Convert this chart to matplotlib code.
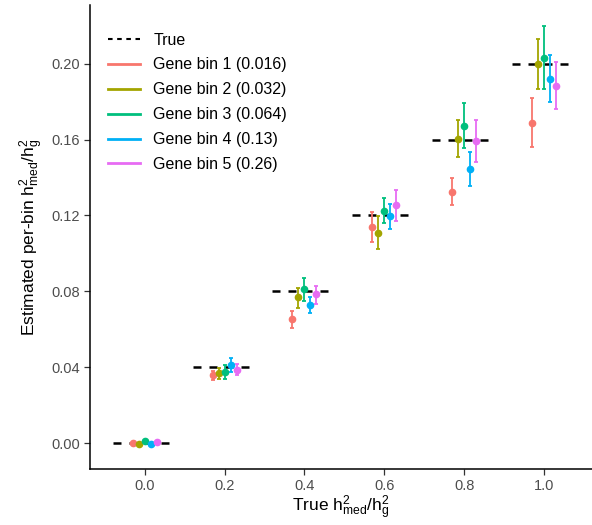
import matplotlib
matplotlib.use("Agg")
import matplotlib.pyplot as plt
from matplotlib.lines import Line2D
import numpy as np

plt.rcParams['font.family'] = ['Liberation Sans', 'DejaVu Sans']
plt.rcParams['mathtext.fontset'] = 'custom'
plt.rcParams['mathtext.rm'] = 'Liberation Sans'
plt.rcParams['mathtext.it'] = 'Liberation Sans'

# data
true_vals = [0.0, 0.2, 0.4, 0.6, 0.8, 1.0]
true_est = [0.0, 0.04, 0.08, 0.12, 0.16, 0.20]
bin_labels = ["Gene bin 1 (0.016)", "Gene bin 2 (0.032)", "Gene bin 3 (0.064)",
              "Gene bin 4 (0.13)", "Gene bin 5 (0.26)"]
bin_colors = ["#F8766D", "#A3A500", "#00BF7D", "#00B0F6", "#E76BF3"]

est_bin1 = [0.0000, 0.0359, 0.0654, 0.1138, 0.1323, 0.1690]
lo_bin1 = [-0.0006, 0.0333, 0.0608, 0.1059, 0.1253, 0.1561]
hi_bin1 = [0.0006, 0.0382, 0.0696, 0.1217, 0.1395, 0.1818]

est_bin2 = [-0.0004, 0.0368, 0.0770, 0.1110, 0.1603, 0.1998]
lo_bin2 = [-0.0010, 0.0338, 0.0714, 0.1025, 0.1506, 0.1867]
hi_bin2 = [0.0002, 0.0395, 0.0818, 0.1196, 0.1702, 0.2128]

est_bin3 = [0.0009, 0.0372, 0.0810, 0.1222, 0.1674, 0.2033]
lo_bin3 = [0.0003, 0.0338, 0.0749, 0.1159, 0.1554, 0.1866]
hi_bin3 = [0.0015, 0.0410, 0.0868, 0.1290, 0.1792, 0.2199]

est_bin4 = [-0.0007, 0.0411, 0.0729, 0.1196, 0.1445, 0.1920]
lo_bin4 = [-0.0013, 0.0372, 0.0683, 0.1131, 0.1355, 0.1797]
hi_bin4 = [-0.0001, 0.0448, 0.0770, 0.1262, 0.1534, 0.2045]

est_bin5 = [0.0007, 0.0387, 0.0784, 0.1253, 0.1591, 0.1883]
lo_bin5 = [0.0001, 0.0359, 0.0735, 0.1170, 0.1480, 0.1762]
hi_bin5 = [0.0013, 0.0416, 0.0830, 0.1332, 0.1702, 0.2007]

ests = [est_bin1, est_bin2, est_bin3, est_bin4, est_bin5]
los = [lo_bin1, lo_bin2, lo_bin3, lo_bin4, lo_bin5]
his = [hi_bin1, hi_bin2, hi_bin3, hi_bin4, hi_bin5]

xticks = [0.0, 0.2, 0.4, 0.6, 0.8, 1.0]
yticks = [0.00, 0.04, 0.08, 0.12, 0.16, 0.20]

fig = plt.figure(figsize=(5.92, 5.25), dpi=100)
ax = fig.add_axes([0.152, 0.1067, 0.848, 0.8838])

for tx, ty in zip(true_vals, true_est):
    ax.plot([tx - 0.08, tx + 0.08], [ty, ty], color='black', lw=1.8,
            linestyle=(0, (5.76 / 1.8, 5.76 / 1.8)), zorder=1,
            dash_capstyle='butt')

offsets = [-0.03, -0.015, 0.0, 0.015, 0.03]
for i in range(5):
    x = np.array(true_vals) + offsets[i]
    y = np.array(ests[i])
    lo = np.array(los[i])
    hi = np.array(his[i])
    ax.errorbar(x, y, yerr=[y - lo, hi - y], fmt='o', color=bin_colors[i],
                ecolor=bin_colors[i], elinewidth=1.3, capsize=1.5, capthick=1.3,
                markersize=4.5, zorder=2 + i)

ax.set_xlim(-0.137, 1.12)
ax.set_ylim(-0.0137, 0.231)
ax.set_xticks(xticks)
ax.set_xticklabels([f"{v:.1f}" for v in xticks])
ax.set_yticks(yticks)
ax.set_yticklabels([f"{v:.2f}" for v in yticks])
ax.tick_params(axis='both', direction='out', length=4, width=0.9, color='#333333',
               labelsize=10.5, labelcolor='#4D4D4D', pad=3)
for s in ['top', 'right']:
    ax.spines[s].set_visible(False)
for s in ['left', 'bottom']:
    ax.spines[s].set_linewidth(1.1)
    ax.spines[s].set_color('black')

ax.set_xlabel(r'True $\mathregular{h^2_{med}/h^2_g}$', fontsize=12.5, labelpad=1)
ax.set_ylabel(r'Estimated per-bin $\mathregular{h^2_{med}/h^2_g}$', fontsize=12.5, labelpad=4)

handles = [Line2D([0], [0], color='black', lw=1.5, linestyle=(0, (2.2, 2.2)))]
for c in bin_colors:
    handles.append(Line2D([0], [0], color=c, lw=2))
labels = ["True"] + bin_labels
ax.legend(handles, labels, loc='upper left', bbox_to_anchor=(0.005, 0.975),
          frameon=False, fontsize=11.5, handlelength=2.0, handletextpad=0.8,
          labelspacing=0.62, borderaxespad=0.6)

fig.savefig('out.png', dpi=100)
